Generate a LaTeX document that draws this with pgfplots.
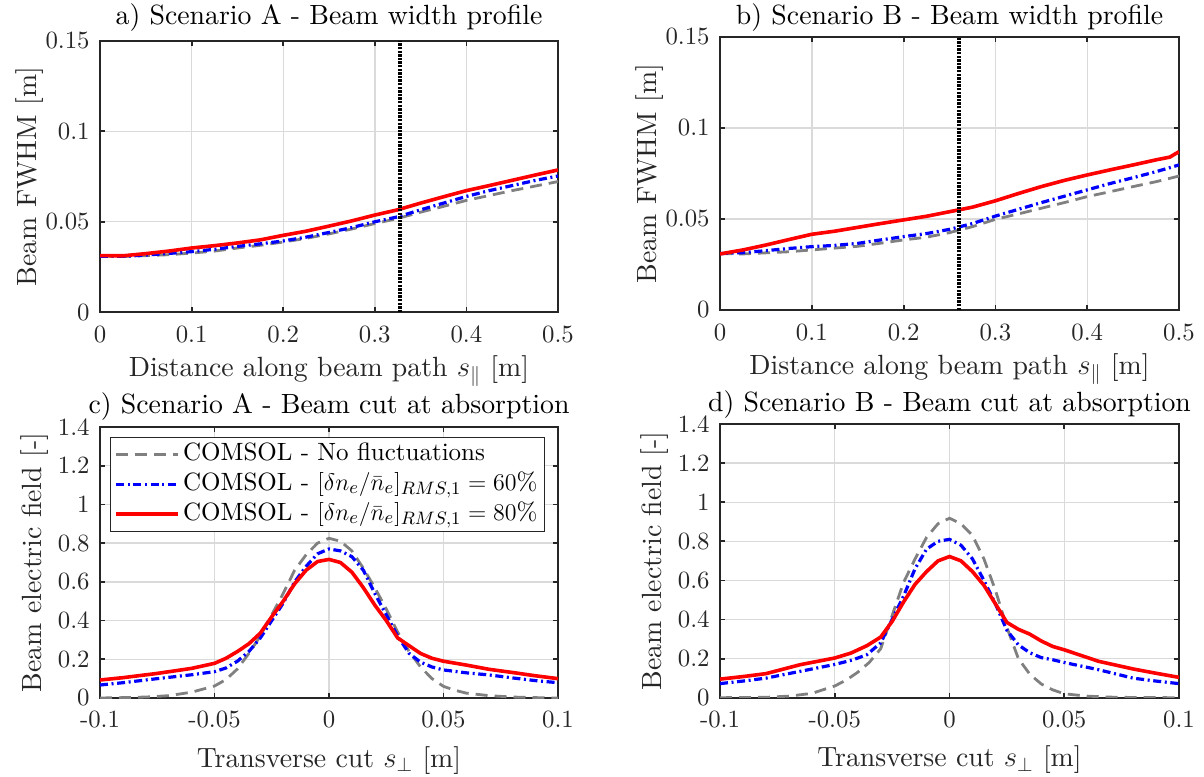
\documentclass[border=0pt]{standalone}
\usepackage{fontspec}
\setmainfont{lmroman10-regular.otf}[BoldFont=lmroman10-bold.otf, ItalicFont=lmroman10-italic.otf]
\usepackage{pgfplots}
\pgfplotsset{compat=1.18}
\definecolor{axcol}{HTML}{262626}
\definecolor{gridcol}{HTML}{DADADA}
\definecolor{graycol}{HTML}{808080}
\newcommand{\tickfont}{\fontsize{12.4}{14}\selectfont}
\newcommand{\legfont}{\fontsize{12.5}{14}\selectfont}
\newcommand{\labfont}{\fontsize{13.9}{16}\selectfont}
\pgfplotsset{
  every axis title/.style={at={(0.5,1)}, anchor=base, inner sep=0pt, font=\labfont, text=black},
  mstyle/.style={
    scale only axis,
    axis line style={draw=axcol, line width=0.9pt},
    every tick/.style={draw=axcol, line width=0.9pt},
    major tick length=2.5pt,
    tick align=inside,
    xtick pos=both, ytick pos=both,
    grid=major,
    grid style={draw=gridcol, line width=0.7pt},
    ticklabel style={font=\tickfont, text=axcol},
    xticklabel style={anchor=base, inner sep=0pt},
    yticklabel style={anchor=east, inner sep=0pt, xshift=-5pt},
    label style={font=\labfont, text=axcol},
    legend image code/.code={\draw[#1] plot coordinates {(0pt,0pt) (31pt,0pt)};},
  },
  gline/.style={draw=graycol, line width=1.4pt, dash pattern=on 6pt off 3.5pt},
  bline/.style={draw=blue, line width=1.6pt, dash pattern=on 4pt off 1.8pt on 1pt off 1.8pt},
  rline/.style={draw=red, line width=1.8pt},
  vline/.style={draw=black, line width=2pt, dash pattern=on 1.2pt off 0.6pt},
}
\begin{document}
\begin{tikzpicture}
\useasboundingbox (0,0) rectangle (602pt,388pt);
% Panel a
\begin{axis}[mstyle, at={(50pt,231.85pt)}, anchor=south west, width=229pt, height=135.8pt,
  xmin=0, xmax=0.5, ymin=0, ymax=0.15,
  xtick={0,0.1,0.2,0.3,0.4,0.5}, xticklabels={0,0.1,0.2,0.3,0.4,0.5},
  ytick={0,0.05,0.1,0.15}, yticklabels={0,0.05,0.1,0.15},
  xticklabel style={yshift=-15.3pt},
  title={a) Scenario A - Beam width profile},
  title style={yshift=7.85pt},
  xlabel={Distance along beam path $s_\parallel$ [m]},
  xlabel style={at={(axis description cs:0.5,0)}, anchor=base, yshift=-32.2pt},
  ylabel={Beam FWHM [m]},
  ylabel style={at={(axis description cs:-0.1397,0.5)}, anchor=base}]
\addplot[gline] coordinates {(0,0.0310) (0.025,0.0308) (0.05,0.0313) (0.075,0.0318) (0.1,0.0327) (0.125,0.0338) (0.15,0.0355) (0.175,0.0370) (0.2,0.0388) (0.225,0.0408) (0.25,0.0433) (0.275,0.0460) (0.3,0.0490) (0.325,0.0518) (0.35,0.0553) (0.375,0.0585) (0.4,0.0618) (0.425,0.0645) (0.45,0.0672) (0.475,0.0697) (0.5,0.0722)};
\addplot[bline] coordinates {(0,0.0310) (0.025,0.0309) (0.05,0.0316) (0.075,0.0325) (0.1,0.0335) (0.125,0.0348) (0.15,0.0364) (0.175,0.0378) (0.2,0.0394) (0.225,0.0415) (0.25,0.0441) (0.275,0.0468) (0.3,0.0500) (0.325,0.0527) (0.35,0.0566) (0.375,0.0603) (0.4,0.0640) (0.425,0.0672) (0.45,0.0700) (0.475,0.0728) (0.5,0.0753)};
\addplot[rline] coordinates {(0,0.0313) (0.025,0.0312) (0.05,0.0324) (0.075,0.0338) (0.1,0.0355) (0.125,0.0368) (0.15,0.0383) (0.175,0.0400) (0.2,0.0425) (0.225,0.0448) (0.25,0.0476) (0.275,0.0505) (0.3,0.0537) (0.325,0.0566) (0.35,0.0603) (0.375,0.0638) (0.4,0.0672) (0.425,0.0700) (0.45,0.0729) (0.475,0.0758) (0.5,0.0786)};
\addplot[vline] coordinates {(0.328,0) (0.328,0.15)};
\end{axis}
% Panel b
\begin{axis}[mstyle, at={(360pt,233pt)}, anchor=south west, width=229.5pt, height=136.5pt,
  xmin=0, xmax=0.5, ymin=0, ymax=0.15,
  xtick={0,0.1,0.2,0.3,0.4,0.5}, xticklabels={0,0.1,0.2,0.3,0.4,0.5},
  ytick={0,0.05,0.1,0.15}, yticklabels={0,0.05,0.1,0.15},
  xticklabel style={yshift=-15.3pt},
  title={b) Scenario B - Beam width profile},
  title style={yshift=6pt},
  xlabel={Distance along beam path $s_\parallel$ [m]},
  xlabel style={at={(axis description cs:0.5,0)}, anchor=base, yshift=-32.2pt},
  ylabel={Beam FWHM [m]},
  ylabel style={at={(axis description cs:-0.1394,0.5)}, anchor=base}]
\addplot[gline] coordinates {(0,0.0310) (0.025,0.0308) (0.05,0.0314) (0.075,0.0320) (0.1,0.0330) (0.125,0.0340) (0.15,0.0350) (0.175,0.0367) (0.2,0.0385) (0.225,0.0400) (0.25,0.0425) (0.275,0.0458) (0.3,0.0498) (0.325,0.0528) (0.35,0.0559) (0.375,0.0590) (0.4,0.0623) (0.425,0.0650) (0.45,0.0678) (0.475,0.0705) (0.5,0.0736)};
\addplot[bline] coordinates {(0,0.0310) (0.025,0.0315) (0.05,0.0326) (0.075,0.0338) (0.1,0.0348) (0.125,0.0355) (0.15,0.0366) (0.175,0.0385) (0.2,0.0403) (0.225,0.0420) (0.25,0.0443) (0.275,0.0475) (0.3,0.0516) (0.325,0.0553) (0.35,0.0590) (0.375,0.0625) (0.4,0.0660) (0.425,0.0695) (0.45,0.0727) (0.475,0.0760) (0.5,0.0797)};
\addplot[rline] coordinates {(0,0.0308) (0.025,0.0330) (0.05,0.0357) (0.075,0.0387) (0.1,0.0416) (0.125,0.0433) (0.15,0.0454) (0.175,0.0475) (0.2,0.0495) (0.225,0.0515) (0.25,0.0540) (0.275,0.0565) (0.3,0.0600) (0.325,0.0640) (0.35,0.0678) (0.375,0.0712) (0.4,0.0742) (0.425,0.0770) (0.45,0.0797) (0.475,0.0825) (0.49,0.0840) (0.5,0.0870)};
\addplot[vline] coordinates {(0.26,0) (0.26,0.15)};
\end{axis}
% Panel c
\begin{axis}[mstyle, at={(50pt,39pt)}, anchor=south west, width=229pt, height=135.5pt,
  xmin=-0.1, xmax=0.1, ymin=0, ymax=1.4,
  xtick={-0.1,-0.05,0,0.05,0.1}, xticklabels={-0.1,-0.05,0,0.05,0.1},
  ytick={0,0.2,0.4,0.6,0.8,1,1.2,1.4}, yticklabels={0,0.2,0.4,0.6,0.8,1,1.2,1.4},
  xticklabel style={yshift=-14.7pt},
  title={c) Scenario A - Beam cut at absorption},
  title style={yshift=6.85pt},
  xlabel={Transverse cut $s_\perp$ [m]},
  xlabel style={at={(axis description cs:0.5,0)}, anchor=base, yshift=-34.5pt},
  ylabel={Beam electric field [-]},
  ylabel style={at={(axis description cs:-0.127,0.5)}, anchor=base},
  legend style={at={(axis description cs:0.0218,0.964)}, anchor=north west, draw=axcol, line width=0.5pt, font=\legfont, fill=white, inner xsep=2pt, inner ysep=1pt, row sep=0pt, nodes={inner ysep=1.1pt, inner xsep=1.5pt, text height=9.4pt, text depth=3.4pt}},
  legend cell align=left]
\addplot[gline] coordinates {(-0.1,0.0) (-0.09,0.002) (-0.08,0.005) (-0.07,0.012) (-0.06,0.03) (-0.05,0.062) (-0.045,0.095) (-0.04,0.15) (-0.035,0.23) (-0.03,0.32) (-0.025,0.43) (-0.02,0.54) (-0.015,0.66) (-0.01,0.74) (-0.005,0.80) (0,0.825) (0.005,0.81) (0.01,0.76) (0.015,0.67) (0.02,0.57) (0.025,0.46) (0.03,0.34) (0.035,0.24) (0.04,0.16) (0.045,0.10) (0.05,0.06) (0.055,0.04) (0.06,0.025) (0.07,0.012) (0.08,0.005) (0.09,0.002) (0.1,0.0)};
\addlegendentry{COMSOL - No fluctuations}
\addplot[bline] coordinates {(-0.1,0.067) (-0.09,0.079) (-0.075,0.10) (-0.06,0.12) (-0.05,0.136) (-0.045,0.155) (-0.04,0.19) (-0.035,0.24) (-0.03,0.31) (-0.025,0.40) (-0.02,0.49) (-0.015,0.60) (-0.01,0.68) (-0.005,0.745) (0,0.77) (0.005,0.76) (0.01,0.73) (0.015,0.66) (0.02,0.54) (0.025,0.43) (0.03,0.32) (0.035,0.23) (0.04,0.185) (0.045,0.16) (0.05,0.145) (0.06,0.13) (0.07,0.119) (0.08,0.104) (0.09,0.09) (0.1,0.079)};
\addlegendentry{COMSOL - $[\delta n_e/\bar{n}_e]_{RMS,1} = 60\%$}
\addplot[rline] coordinates {(-0.1,0.093) (-0.09,0.105) (-0.075,0.127) (-0.06,0.153) (-0.05,0.179) (-0.045,0.205) (-0.04,0.24) (-0.035,0.28) (-0.03,0.335) (-0.025,0.42) (-0.02,0.50) (-0.015,0.59) (-0.01,0.66) (-0.005,0.705) (0,0.716) (0.005,0.70) (0.01,0.65) (0.015,0.57) (0.02,0.48) (0.025,0.40) (0.03,0.31) (0.035,0.27) (0.04,0.23) (0.045,0.205) (0.05,0.19) (0.055,0.18) (0.06,0.17) (0.07,0.148) (0.08,0.132) (0.09,0.115) (0.1,0.10)};
\addlegendentry{COMSOL - $[\delta n_e/\bar{n}_e]_{RMS,1} = 80\%$}
\end{axis}
% Panel d
\begin{axis}[mstyle, at={(360pt,39.15pt)}, anchor=south west, width=229.5pt, height=136.85pt,
  xmin=-0.1, xmax=0.1, ymin=0, ymax=1.4,
  xtick={-0.1,-0.05,0,0.05,0.1}, xticklabels={-0.1,-0.05,0,0.05,0.1},
  ytick={0,0.2,0.4,0.6,0.8,1,1.2,1.4}, yticklabels={0,0.2,0.4,0.6,0.8,1,1.2,1.4},
  xticklabel style={yshift=-14.7pt},
  title={d) Scenario B - Beam cut at absorption},
  title style={yshift=6.15pt},
  xlabel={Transverse cut $s_\perp$ [m]},
  xlabel style={at={(axis description cs:0.5,0)}, anchor=base, yshift=-34.5pt},
  ylabel={Beam electric field [-]},
  ylabel style={at={(axis description cs:-0.127,0.5)}, anchor=base}]
\addplot[gline] coordinates {(-0.1,0) (-0.08,0.002) (-0.07,0.008) (-0.06,0.022) (-0.05,0.06) (-0.045,0.09) (-0.04,0.13) (-0.035,0.18) (-0.03,0.25) (-0.025,0.42) (-0.02,0.59) (-0.015,0.71) (-0.01,0.82) (-0.005,0.89) (0,0.918) (0.005,0.89) (0.01,0.83) (0.015,0.71) (0.02,0.55) (0.025,0.36) (0.03,0.2) (0.035,0.12) (0.04,0.07) (0.045,0.04) (0.05,0.02) (0.06,0.008) (0.07,0.003) (0.08,0.001) (0.1,0)};
\addplot[bline] coordinates {(-0.1,0.072) (-0.09,0.085) (-0.08,0.10) (-0.065,0.135) (-0.05,0.17) (-0.042,0.194) (-0.036,0.22) (-0.03,0.28) (-0.025,0.40) (-0.02,0.52) (-0.015,0.66) (-0.01,0.76) (-0.005,0.80) (0,0.81) (0.005,0.78) (0.01,0.71) (0.015,0.60) (0.02,0.48) (0.025,0.345) (0.03,0.27) (0.035,0.23) (0.04,0.205) (0.045,0.194) (0.05,0.18) (0.065,0.143) (0.08,0.10) (0.09,0.085) (0.1,0.072)};
\addplot[rline] coordinates {(-0.1,0.095) (-0.09,0.108) (-0.08,0.123) (-0.065,0.169) (-0.05,0.203) (-0.043,0.228) (-0.036,0.266) (-0.03,0.31) (-0.025,0.39) (-0.02,0.49) (-0.015,0.58) (-0.01,0.645) (-0.005,0.70) (0,0.722) (0.005,0.70) (0.01,0.645) (0.015,0.575) (0.02,0.48) (0.025,0.385) (0.03,0.35) (0.035,0.325) (0.04,0.29) (0.045,0.262) (0.05,0.245) (0.065,0.186) (0.08,0.147) (0.09,0.125) (0.1,0.104)};
\end{axis}
\end{tikzpicture}
\end{document}
